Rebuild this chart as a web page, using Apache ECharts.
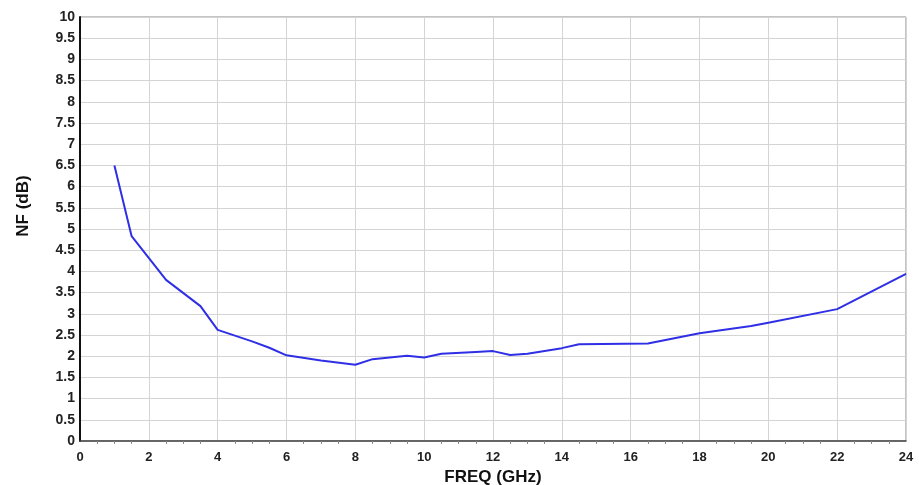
<!DOCTYPE html>
<html><head><meta charset="utf-8">
<script src="https://cdn.jsdelivr.net/npm/echarts@6/dist/echarts.min.js"></script>
<style>html,body{margin:0;padding:0;background:#fff}#c{width:919px;height:485px}</style>
</head><body><div id="c"></div>
<script>
const freq = [1, 1.5, 2.5, 3.5, 4, 5, 5.5, 6, 7, 8, 8.5, 9.5, 10, 10.5, 11.5, 12, 12.5, 13, 14, 14.5, 16.5, 18, 19.5, 20, 22, 24];
const nf   = [6.5, 4.83, 3.8, 3.18, 2.62, 2.35, 2.2, 2.02, 1.9, 1.8, 1.93, 2.01, 1.97, 2.06, 2.1, 2.12, 2.03, 2.06, 2.19, 2.28, 2.3, 2.54, 2.71, 2.79, 3.11, 3.94];
const xTitle = 'FREQ (GHz)';
const yTitle = 'NF (dB)';

const chart = echarts.init(document.getElementById('c'), null, {renderer:'canvas'});
const ff = 'Liberation Sans, Arial, sans-serif';
chart.setOption({
  animation:false,
  grid:{left:80, right:13, top:17, bottom:44, show:true, borderColor:'#888', borderWidth:1,
        containLabel:false, outerBoundsMode:'none'},
  xAxis:{type:'value', min:0, max:24, interval:2,
    name:xTitle, nameLocation:'middle', nameGap:27,
    nameTextStyle:{fontFamily:ff, fontWeight:'bold', fontSize:17, color:'#111'},
    axisLine:{lineStyle:{color:'#444', width:1.5}},
    axisTick:{show:false},
    minorTick:{show:true, splitNumber:4, length:3, lineStyle:{color:'#888'}},
    axisLabel:{margin:10, fontFamily:ff, fontWeight:'bold', fontSize:13, color:'#222'},
    splitLine:{show:true, lineStyle:{color:'#d4d4d4', width:1}}
  },
  yAxis:{type:'value', min:0, max:10, interval:0.5,
    name:yTitle, nameLocation:'middle', nameGap:48, nameRotate:90,
    nameTextStyle:{fontFamily:ff, fontWeight:'bold', fontSize:17, color:'#111', padding:[0,0,0,46]},
    axisLine:{show:true, lineStyle:{color:'#111', width:2}},
    axisTick:{show:false},
    axisLabel:{margin:5, fontFamily:ff, fontWeight:'bold', fontSize:14, color:'#222'},
    splitLine:{show:true, lineStyle:{color:'#d4d4d4', width:1}}
  },
  series:[{type:'line', data:freq.map((f,i)=>[f, nf[i]]), showSymbol:false, symbol:'none',
    lineStyle:{color:'#2f2fe6', width:2}}]
});
</script></body></html>
